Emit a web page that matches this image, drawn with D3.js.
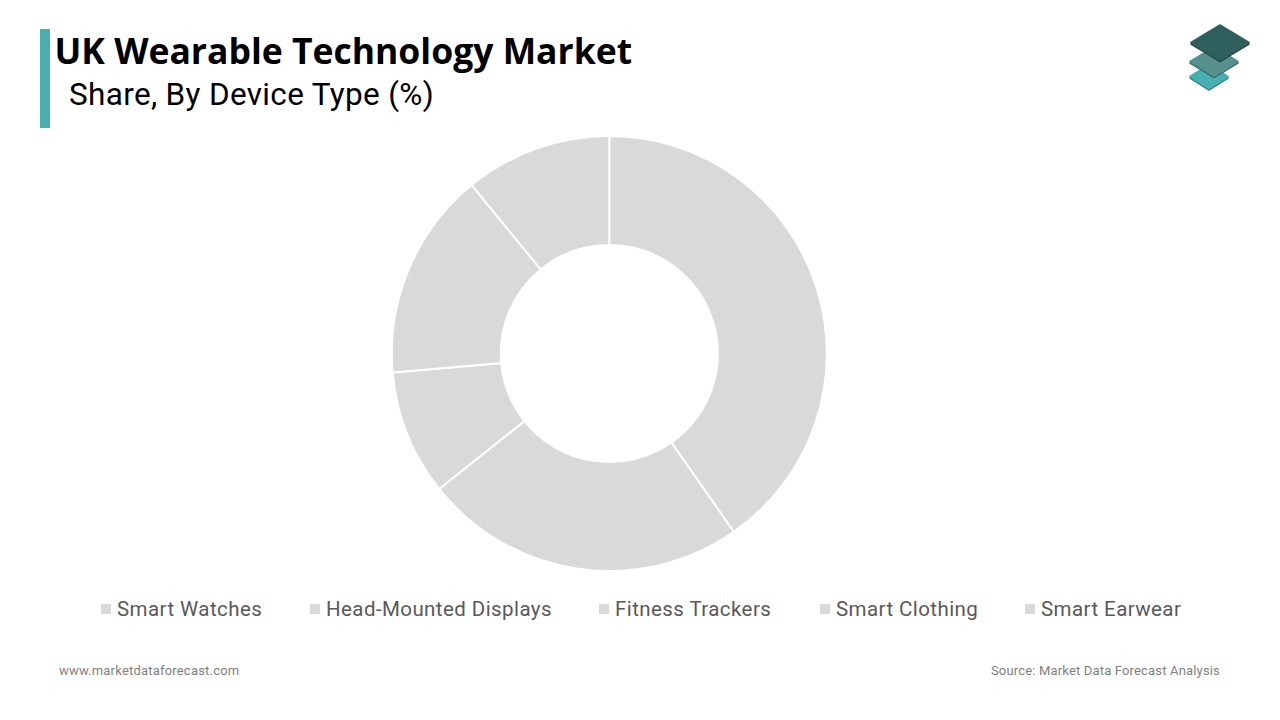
<!DOCTYPE html>
<html><head><meta charset="utf-8">
<script src="https://cdn.jsdelivr.net/npm/d3@7"></script>
<style>html,body{margin:0;padding:0;background:#fff;overflow:hidden}svg{display:block}text{font-family:Roboto,sans-serif}</style>
</head><body><svg id="c" width="1280" height="720"></svg>
<script>
const categories = ["Smart Watches","Head-Mounted Displays","Fitness Trackers","Smart Clothing","Smart Earwear"];
const shares = [40.3,24.0,9.3,15.5,10.9];
const legendX = [101,310,599,820,1025];
const sliceColor = "#d9d9d9";
const titleText = "UK Wearable Technology Market";
const subtitleText = "Share, By Device Type (%)";
const footLeft = "www.marketdataforecast.com";
const footRight = "Source: Market Data Forecast Analysis";

const svg = d3.select("#c");
svg.append("rect").attr("x",40).attr("y",29).attr("width",10).attr("height",99).attr("fill","#4baeae");
svg.append("text").attr("x",54.5).attr("y",64).attr("font-size",35.5).attr("font-weight",700).attr("fill","#000")
  .style("font-family","'Open Sans'").text(titleText);
svg.append("text").attr("x",69).attr("y",105).attr("font-size",31.5).attr("letter-spacing",0.33).attr("fill","#000").text(subtitleText);

const pie = d3.pie().sort(null).value(d=>d);
const arc = d3.arc().innerRadius(108.5).outerRadius(217.5);
svg.append("g").attr("transform","translate(609.3,353.5)")
  .selectAll("path").data(pie(shares)).join("path")
  .attr("d",arc).attr("fill",sliceColor).attr("stroke","#fff").attr("stroke-width",2);

const leg = svg.append("g").selectAll("g").data(categories).join("g")
  .attr("transform",(d,i)=>`translate(${legendX[i]},0)`);
leg.append("rect").attr("x",0).attr("y",604).attr("width",10).attr("height",10).attr("fill",sliceColor);
leg.append("text").attr("x",16).attr("y",616).attr("font-size",20.5).attr("letter-spacing",0.42).attr("fill","#595959").text(d=>d);

svg.append("text").attr("x",59).attr("y",675).attr("font-size",13).attr("letter-spacing",0.2).attr("fill","#7f7f7f").text(footLeft);
svg.append("text").attr("x",1220).attr("y",675).attr("text-anchor","end").attr("font-size",13).attr("letter-spacing",0.17).attr("fill","#7f7f7f").text(footRight);

const logo = svg.append("g");
const diamond = (cx,cy,rx,ry)=>d3.line()([[cx,cy-ry],[cx+rx,cy],[cx,cy+ry],[cx-rx,cy]])+"Z";
[[1209,76.5,19,12,"#46b0b0","#2f8585"],[1214,61.5,24,14.5,"#55908c","#3a6f6c"],[1220,42.5,29,17.5,"#2f5f5c","#234a48"]].forEach(([x,y,rx,ry,c,s])=>{
  logo.append("path").attr("d",diamond(x,y+1.5,rx,ry)).attr("fill",s).attr("stroke",s).attr("stroke-width",1.5).attr("stroke-linejoin","round");
  logo.append("path").attr("d",diamond(x,y,rx,ry)).attr("fill",c).attr("stroke",c).attr("stroke-width",1.5).attr("stroke-linejoin","round");
});
</script></body></html>
